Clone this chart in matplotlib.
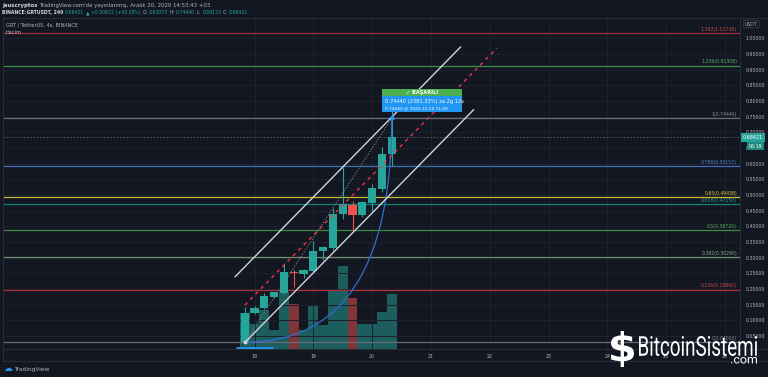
import numpy as np
import pandas as pd
import matplotlib
matplotlib.use("Agg")
import matplotlib.pyplot as plt
import matplotlib.dates as mdates
from matplotlib.path import Path
from matplotlib.patches import PathPatch, Rectangle
from matplotlib.textpath import TextPath
from matplotlib.font_manager import FontProperties
from matplotlib.transforms import Affine2D

# GRT/USDT 4h candles
times = ['2020-12-17 20:00', '2020-12-18 00:00', '2020-12-18 04:00', '2020-12-18 08:00',
         '2020-12-18 12:00', '2020-12-18 16:00', '2020-12-18 20:00', '2020-12-19 00:00',
         '2020-12-19 04:00', '2020-12-19 08:00', '2020-12-19 12:00', '2020-12-19 16:00',
         '2020-12-19 20:00', '2020-12-20 00:00', '2020-12-20 04:00', '2020-12-20 08:00']
opens = [0.030, 0.123, 0.141, 0.176, 0.189, 0.256, 0.248, 0.259, 0.322, 0.331, 0.440, 0.469, 0.437, 0.476, 0.520, 0.63073]
highs = [0.144, 0.145, 0.187, 0.192, 0.284, 0.262, 0.263, 0.354, 0.336, 0.458, 0.590, 0.480, 0.480, 0.535, 0.654, 0.74440]
lows = [0.030, 0.120, 0.138, 0.172, 0.185, 0.208, 0.235, 0.255, 0.293, 0.325, 0.425, 0.384, 0.430, 0.450, 0.510, 0.59133]
closes = [0.123, 0.141, 0.178, 0.190, 0.256, 0.250, 0.261, 0.322, 0.333, 0.440, 0.471, 0.437, 0.477, 0.522, 0.631, 0.68421]
volumes = [18.0, 12.7, 19.3, 9.3, 28.3, 22.7, 9.3, 21.7, 12.0, 29.7, 41.3, 25.7, 12.3, 12.3, 18.7, 27.5]

# fibonacci levels drawn on the chart
fib_levels = ['1.382', '1.236', '1', '0.786', '0.65', '0.618', '0.5', '0.382', '0.236', '0']
fib_prices = [1.01738, 0.91308, 0.74440, 0.59152, 0.49438, 0.47150, 0.38720, 0.30290, 0.19860, 0.03000]
fib_colors = ['#a3303a', '#3f8f4a', '#6a6d78', '#3d6fb5', '#c9b634', '#118276', '#3f8c42', '#6f8b6d', '#a8323c', '#6a6d78']
fib_text = ['#c44a52', '#5fae67', '#8a8d97', '#4f86cf', '#e0cc4a', '#27a396', '#56a95a', '#89a786', '#d0464f', '#7f828c']

day_ticks = ['2020-12-18', '2020-12-19', '2020-12-20', '2020-12-21', '2020-12-22',
             '2020-12-23', '2020-12-24', '2020-12-25', '2020-12-26']

BG = '#131722'
BORDER = '#2a2e39'
TXT = '#b2b5be'
UP = '#26a69a'
DOWN = '#ef5350'
W, H = 768, 377

x = mdates.datestr2num(times)
o = np.array(opens); c = np.array(closes)
hi = np.array(highs); lo = np.array(lows)
up = c >= o
bar_w = 1 / 6.0

fig = plt.figure(figsize=(W / 100, H / 100), dpi=100, facecolor=BG)
ax = fig.add_axes([3 / W, 1 - 349 / H, 737 / W, 331 / H])
vax = ax.twinx()
ax.set_zorder(vax.get_zorder() + 1)
ax.patch.set_visible(False)
vax.patch.set_visible(False)

# x range: pixel 3 .. 740, day 18 00:00 at pixel 254.5, 58.8 px/day
d18 = mdates.datestr2num('2020-12-18')
ax.set_xlim(d18 - 251.5 / 58.8, d18 + 485.5 / 58.8)
ax.set_ylim(0.0089, 1.0648)

# volume
vax.bar(x, volumes, width=bar_w, color=np.where(up, UP, DOWN), alpha=0.5, linewidth=0)
vax.set_ylim(0, 165.5)
vax.set_yticks([])
for s in vax.spines.values():
    s.set_visible(False)

# grid + axis styling
ax.set_yticks(np.arange(0.05, 1.001, 0.05))
ax.yaxis.set_major_formatter(matplotlib.ticker.FormatStrFormatter('%.5f'))
ax.yaxis.tick_right()
dt = mdates.datestr2num(day_ticks)
ax.set_xticks(dt)
ax.set_xticklabels([d[-2:] for d in day_ticks])
ax.tick_params(axis='both', length=0, labelsize=3.4, colors=TXT)
ax.tick_params(axis='y', pad=4)
ax.tick_params(axis='x', pad=3.5)
ax.grid(True, color='#1e222d', linewidth=0.7)
ax.set_axisbelow(True)
for s in ax.spines.values():
    s.set_color(BORDER)
    s.set_linewidth(0.7)

# fib levels
for lvl, p, col, tc in zip(fib_levels, fib_prices, fib_colors, fib_text):
    ax.axhline(p, color=col, linewidth=0.9, zorder=2)
    ax.text(0.996, p + 0.004, '%s(%.5f)' % (lvl, p), transform=ax.get_yaxis_transform(),
            ha='right', va='bottom', color=tc, fontsize=3.3)

# current price line
ax.axhline(closes[-1], color='#5d606b', linewidth=0.6, linestyle=(0, (2, 2)), zorder=2)

# candles
ax.vlines(x, lo, hi, colors=np.where(up, UP, DOWN), linewidth=0.8, zorder=3)
ax.bar(x, c - o, bottom=o, width=bar_w * 0.82, color=np.where(up, UP, DOWN), linewidth=0, zorder=4)

# drawings: low -> high tools
t0, p0 = x[0], lows[0]
t1, p1 = x[-1], highs[-1]
ax.plot([t0, t1], [p0, p1], color='#787b86', linewidth=0.7, linestyle=(0, (1.5, 1.5)), zorder=5)
curve = Path([(t0, p0), (t1, p0), (t1, p1)], [Path.MOVETO, Path.CURVE3, Path.CURVE3])
ax.add_patch(PathPatch(curve, facecolor='none', edgecolor='#2f6fd0', linewidth=0.9, zorder=5))

# parallel channel
ch_upper = ([17.671, 21.504], [0.2396, 0.9722])
ch_lower = ([17.836, 21.726], [0.0297, 0.7720])
ch_mid = ([17.836, 22.118], [0.1490, 0.9680])
off = d18 - 18
ax.plot(np.array(ch_upper[0]) + off, ch_upper[1], color='#d1d4dc', linewidth=1.0, zorder=6)
ax.plot(np.array(ch_lower[0]) + off, ch_lower[1], color='#d1d4dc', linewidth=1.0, zorder=6)
ax.plot(np.array(ch_mid[0]) + off, ch_mid[1], color='#f23645', linewidth=1.0,
        linestyle=(0, (2.5, 3)), zorder=6)

# blue range markers
ax.plot([t0 - 0.14, t0 + 0.48], [0.011, 0.011], color='#2196f3', linewidth=2.0,
        solid_capstyle='butt', zorder=6)
ax.plot([t1], [p1 + 0.004], marker='^', color='#2196f3', markersize=2.5, zorder=7)
ax.plot([t1, t1], [p1, 0.765], color='#2196f3', linewidth=0.8, zorder=7)
ax.plot([t0], [p0], marker='o', color='#d1d4dc', markersize=1.8, zorder=7)

# prediction label box
bx0, bx1 = t1 - 0.158, t1 + 1.203
ax.add_patch(Rectangle((bx0, 0.816), bx1 - bx0, 0.0213, facecolor='#4caf50', edgecolor='none', zorder=8))
ax.add_patch(Rectangle((bx0, 0.765), bx1 - bx0, 0.051, facecolor='#2196f3', edgecolor='none', zorder=8))
ax.text((bx0 + bx1) / 2, 0.8265, '\u2713 BAŞARILI', ha='center', va='center', color='white',
        fontsize=3.6, fontweight='bold', zorder=9)
ax.text(bx0 + 0.05, 0.799, '0.74440 (2381.33%) za 2g 12s', ha='left', va='center', color='white',
        fontsize=3.7, zorder=9)
ax.text(bx0 + 0.05, 0.778, '0.74440 @ 2020-12-20 11:00', ha='left', va='center', color='white',
        fontsize=3.1, zorder=9)

# right axis badges
ax.text(1.004, closes[-1], '%.5f' % closes[-1], transform=ax.get_yaxis_transform(), ha='left',
        va='center', color='white', fontsize=3.5, zorder=10,
        bbox=dict(boxstyle='square,pad=0.4', facecolor=UP, edgecolor='none'))
ax.text(1.012, closes[-1] - 0.028, '06:19', transform=ax.get_yaxis_transform(), ha='left',
        va='center', color='white', fontsize=3.4, zorder=10,
        bbox=dict(boxstyle='square,pad=0.35', facecolor='#1f8a80', edgecolor='none'))
fig.text(745 / W, 1 - 24 / H, 'USDT', ha='left', va='center', color=TXT, fontsize=3.3,
         bbox=dict(boxstyle='round,pad=0.3', facecolor='none', edgecolor='#434651', linewidth=0.5))

# pane frame lines
for (xa, xb, ya, yb) in [(740, 768, 18, 18), (3, 768, 361, 361), (3, 3, 349, 361),
                         (740, 740, 349, 361), (740, 768, 349, 349)]:
    fig.add_artist(plt.Line2D([xa / W, xb / W], [1 - ya / H, 1 - yb / H], color=BORDER, linewidth=0.7))

# header
fig.text(6 / W, 1 - 25 / H, 'GRT / TetherUS, 4s, BINANCE', color=TXT, fontsize=3.6, va='center')
fig.text(6 / W, 1 - 32 / H, 'Hacim', color=TXT, fontsize=3.6, va='center')

r = fig.canvas.get_renderer()


def text_row(pieces, ypx, size):
    xp = 2.0
    for s, col, wt in pieces:
        t = fig.text(xp / W, 1 - ypx / H, s, color=col, fontsize=size, fontweight=wt, va='center')
        bb = t.get_window_extent(renderer=r)
        xp = bb.x1 + 1.6


text_row([('jeuscryptos', '#d1d4dc', 'bold'),
          ("TradingView.com'da yayınlanmış, Aralık 20, 2020 14:53:43 +03", '#b2b5be', 'normal')], 5, 3.9)
text_row([('BINANCE:GRTUSDT, 240', '#d1d4dc', 'bold'),
          ('0.68421', UP, 'normal'), ('\u25b2', UP, 'normal'),
          ('+0.20672 (+43.29%)', UP, 'normal'),
          ('O:', TXT, 'normal'), ('0.63073', UP, 'normal'),
          ('H:', TXT, 'normal'), ('0.74440', UP, 'normal'),
          ('L:', TXT, 'normal'), ('0.59133', UP, 'normal'),
          ('C:', TXT, 'normal'), ('0.68421', UP, 'normal')], 12.5, 3.3)

# TradingView mark
fig.text(4 / W, 1 - 368.5 / H, '\u2601', color='#2196f3', fontsize=6.5, va='center')
fig.text(14 / W, 1 - 369 / H, 'TradingView', color='#b2b5be', fontsize=4.2, va='center')


def fit_text(s, x0, x1, ytop, ybot, weight='normal', family='Roboto'):
    tp = TextPath((0, 0), s, size=1, prop=FontProperties(family=family, weight=weight))
    e = tp.get_extents()
    tr = Affine2D().translate(-e.x0, -e.y0).scale((x1 - x0) / e.width, (ybot - ytop) / e.height)
    tr = tr.translate(x0, H - ybot)
    fig.add_artist(PathPatch(tp, transform=tr, facecolor='white', edgecolor='none', zorder=20))


fit_text('$', 611, 634, 331, 367, weight='bold', family='DejaVu Sans')
fit_text('BitcoinSistemi', 639, 757, 336, 356)
fit_text('.com', 731, 757, 357, 363.5)

fig.savefig('out.png', dpi=100, facecolor=BG)
